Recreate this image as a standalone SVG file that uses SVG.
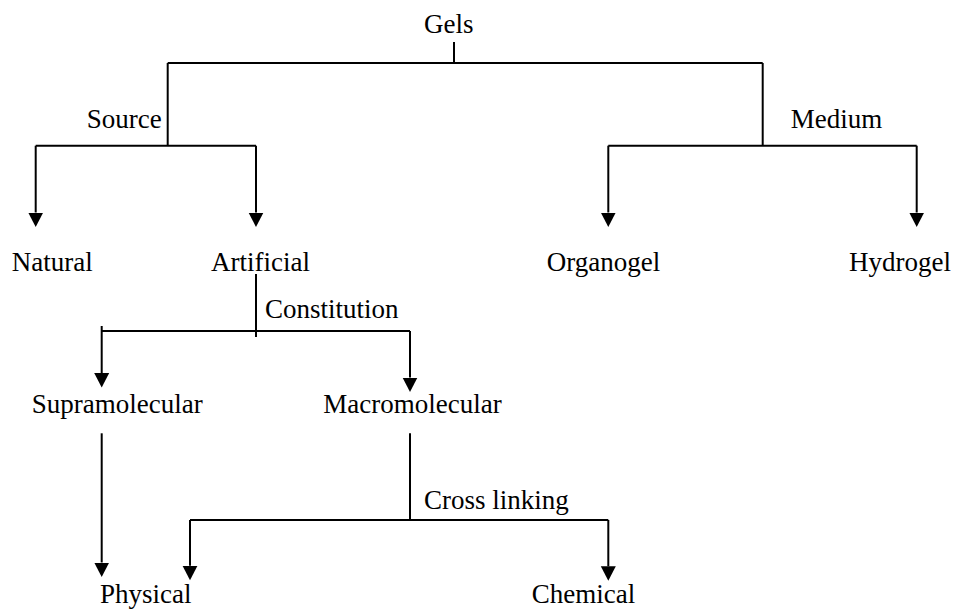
<svg xmlns="http://www.w3.org/2000/svg" width="954" height="610" viewBox="0 0 954 610">
<style>
.t{font-family:"Liberation Serif","Times New Roman",serif;font-size:27px;fill:#000}
.c{fill:none;stroke:#000;stroke-width:2}
.a{fill:none;stroke:#000;stroke-width:2;marker-end:url(#arr)}
</style>
<defs>
<marker id="arr" markerUnits="userSpaceOnUse" markerWidth="16" markerHeight="16" viewBox="0 0 16 16" refX="0" refY="8" orient="auto">
<path d="M0,0.5 L14.5,8 L0,15.5 z" fill="#000"/>
</marker>
</defs>
<rect width="954" height="610" fill="#fff"/>
<g id="connectors">
<path class="c" d="M454,42 V63"/>
<path class="c" d="M167.7,63 H762.7"/>
<path class="c" d="M167.7,63 V145.7"/>
<path class="c" d="M762.7,63 V145.7"/>
<path class="c" d="M35.7,145.7 H256"/>
<path class="a" d="M35.7,145.7 V212.5"/>
<path class="a" d="M256,145.7 V212.5"/>
<path class="c" d="M608.3,145.7 H916.7"/>
<path class="a" d="M608.3,145.7 V212.5"/>
<path class="a" d="M916.7,145.7 V212.5"/>
<path class="c" d="M256,274 V337"/>
<path class="c" d="M101.7,331 H410"/>
<path class="a" d="M101.7,326 V373"/>
<path class="a" d="M410,331 V377.5"/>
<path class="a" d="M101.7,433.3 V562.5"/>
<path class="c" d="M410,433.3 V520"/>
<path class="c" d="M190,520 H608.3"/>
<path class="a" d="M190,520 V565.7"/>
<path class="a" d="M608.3,520 V566.3"/>
</g>
<g id="labels">
<text class="t" x="86.7" y="128.3">Source</text>
<text class="t" x="790.7" y="128.3">Medium</text>
<text class="t" x="265" y="318.3">Constitution</text>
<text class="t" x="424" y="508.5">Cross linking</text>
</g>
<g id="gels"><text class="t" x="424" y="33">Gels</text></g>
<g id="natural"><text class="t" x="11.7" y="270.7">Natural</text></g>
<g id="artificial"><text class="t" x="211" y="270.7">Artificial</text></g>
<g id="organogel"><text class="t" x="546.7" y="270.7">Organogel</text></g>
<g id="hydrogel"><text class="t" x="849" y="270.7">Hydrogel</text></g>
<g id="supramolecular"><text class="t" x="31.7" y="413.3">Supramolecular</text></g>
<g id="macromolecular"><text class="t" x="323.3" y="413">Macromolecular</text></g>
<g id="physical"><text class="t" x="100" y="603.3">Physical</text></g>
<g id="chemical"><text class="t" x="531.7" y="603.3">Chemical</text></g>
</svg>
